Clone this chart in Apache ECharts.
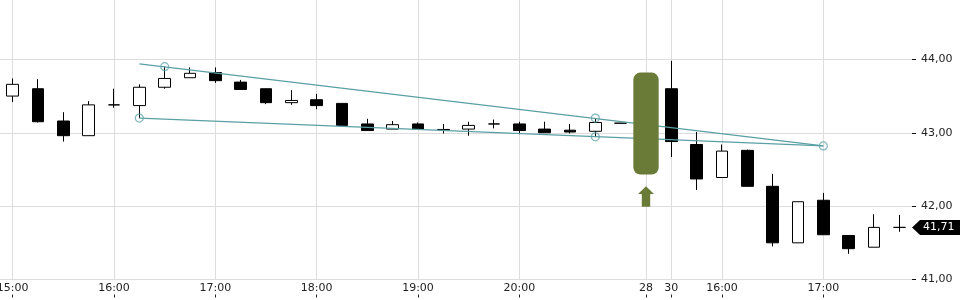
<!DOCTYPE html>
<html>
<head>
<meta charset="utf-8">
<script src="https://cdn.jsdelivr.net/npm/echarts@6/dist/echarts.min.js"></script>
<style>
html,body{margin:0;padding:0;background:#fff;}
#c{width:960px;height:300px;}
</style>
</head>
<body>
<div id="c"></div>
<script>
const categories = ['15:00','15:15','15:30','15:45','16:00','16:15','16:30','16:45','17:00','17:15','17:30','17:45',
  '18:00','18:15','18:30','18:45','19:00','19:15','19:30','19:45','20:00','20:15','20:30','20:45','21:00',
  '28','30','15:45','16:00','16:15','16:30','16:45','17:00','17:15','17:30','17:45'];
const labelIndex = [0,4,8,12,16,20,25,26,28,32];
const labelText = ['15:00','16:00','17:00','18:00','19:00','20:00','28','30','16:00','17:00'];

const opens  = [43.50,43.60,43.16,42.96,43.38,43.37,43.62,43.75,43.82,43.69,43.60,43.41,43.45,43.40,43.12,43.05,43.12,43.045,43.05,43.12,43.12,43.05,43.035,43.02,43.13,43.13,43.60,42.84,42.39,42.76,42.27,41.50,42.08,41.60,41.44,41.71];
const closes = [43.66,43.15,42.96,43.38,43.38,43.62,43.74,43.81,43.71,43.59,43.41,43.44,43.37,43.10,43.03,43.11,43.05,43.04,43.10,43.12,43.03,43.00,43.01,43.14,43.13,43.13,42.88,42.37,42.75,42.27,41.50,42.06,41.61,41.42,41.71,41.71];
const lows   = [43.42,43.14,42.88,42.96,43.34,43.20,43.60,43.75,43.68,43.59,43.39,43.38,43.32,43.09,43.03,43.05,43.05,42.99,42.96,43.06,42.98,43.00,42.99,42.94,43.13,43.13,42.67,42.22,42.39,42.27,41.45,41.50,41.61,41.35,41.44,41.65];
const highs  = [43.74,43.73,43.28,43.43,43.60,43.66,43.90,43.89,43.89,43.72,43.60,43.58,43.53,43.40,43.19,43.16,43.14,43.12,43.15,43.18,43.15,43.15,43.12,43.20,43.13,43.13,43.98,43.01,42.84,42.77,42.44,42.06,42.18,41.60,41.89,41.88];

const upperTrend = [[5,43.94],[32,42.82]];
const lowerTrend = [[5,43.20],[32,42.82]];
const trendPoints = [[6,43.90],[23,43.20],[5,43.20],[23,42.944],[32,42.82]];

const signalIndex = 25;
const signalRange = [43.82, 42.43];
const arrowRange = [42.27, 41.99];
const lastPrice = 41.71;

const yTicks = [41,42,43,44];

const fmt = v => v.toFixed(2).replace('.', ',');
const showLabel = (i) => labelIndex.indexOf(i) >= 0;

const candleData = opens.map((o,i) => [o, closes[i], lows[i], highs[i]]);

const chart = echarts.init(document.getElementById('c'), null, {renderer:'canvas'});
const FONT = 'DejaVu Sans';
const teal = '#5a9fa4';
const olive = '#6a7b38';

chart.setOption({
  animation: false,
  backgroundColor: '#ffffff',
  grid: {left: 0, right: 48, top: -14, height: 293.5, containLabel: false, outerBoundsMode: 'none'},
  xAxis: [{
    type: 'category',
    data: categories,
    boundaryGap: true,
    axisLine: {show: false},
    axisTick: {show: false},
    splitLine: {show: false},
    axisLabel: {
      interval: (i) => showLabel(i),
      formatter: (v, i) => { const k = labelIndex.indexOf(i); return k >= 0 ? labelText[k] : ''; },
      margin: 3, fontSize: 11, fontFamily: FONT, color: '#222', hideOverlap: false
    }
  },{
    type: 'category',
    data: categories,
    position: 'bottom',
    offset: 15,
    boundaryGap: true,
    axisLine: {show: false},
    axisLabel: {show: false},
    splitLine: {show: false},
    axisTick: {show: true, alignWithLabel: true, interval: (i) => showLabel(i), length: 3, lineStyle: {color: '#222', width: 1}}
  }],
  yAxis: {
    type: 'value',
    position: 'right',
    min: 41, max: 45, interval: 1,
    axisLine: {show: false},
    axisTick: {show: true, length: 4, lineStyle: {color: '#111'}},
    axisLabel: {margin: 9, fontSize: 11, fontFamily: FONT, color: '#222', formatter: (v) => yTicks.indexOf(v) >= 0 ? fmt(v) : ''},
    splitLine: {show: true, lineStyle: {color: '#dddddd', width: 1}}
  },
  series: [
    {
      type: 'line', data: [], z: 0, silent: true,
      markLine: {
        z: 0, silent: true, symbol: ['none','none'], label: {show: false},
        lineStyle: {color: '#dddddd', type: 'solid', width: 1},
        emphasis: {disabled: true},
        data: labelIndex.map(i => ({xAxis: i}))
      }
    },
    {
      type: 'candlestick', z: 3,
      data: candleData,
      barWidth: 12,
      itemStyle: {color: '#ffffff', color0: '#000000', borderColor: '#000000', borderColor0: '#000000', borderColorDoji: '#000000', borderWidth: 1}
    },
    {
      type: 'line', z: 4, data: upperTrend, showSymbol: false, silent: true,
      lineStyle: {color: teal, width: 1.3}
    },
    {
      type: 'line', z: 4, data: lowerTrend, showSymbol: false, silent: true,
      lineStyle: {color: teal, width: 1.3}
    },
    {
      type: 'scatter', z: 5, data: trendPoints, symbol: 'circle', symbolSize: 8, silent: true,
      itemStyle: {color: 'rgba(0,0,0,0)', borderColor: '#62a6aa', borderWidth: 1.2}
    },
    {
      type: 'custom', z: 6, clip: false, silent: true,
      data: [[signalIndex, signalRange[0], signalRange[1], arrowRange[0], arrowRange[1]]],
      renderItem: (params, api) => {
        const idx = api.value(0);
        const p1 = api.coord([idx, api.value(1)]);
        const p2 = api.coord([idx, api.value(2)]);
        const a1 = api.coord([idx, api.value(3)]);
        const a2 = api.coord([idx, api.value(4)]);
        const bw = api.size([1, 0])[0];
        const x = p1[0];
        const hy = a1[1] + 7.6;
        return {
          type: 'group',
          children: [
            {type: 'rect', shape: {x: x - bw/2, y: p1[1], width: bw, height: p2[1]-p1[1], r: 7}, style: {fill: olive}},
            {type: 'polygon', shape: {points: [[x, a1[1]],[x+8, hy],[x+4.2, hy],[x+4.2, a2[1]],[x-4.2, a2[1]],[x-4.2, hy],[x-8, hy]]}, style: {fill: olive}}
          ]
        };
      }
    },
    {
      type: 'custom', z: 7, clip: false, silent: true,
      data: [[categories.length - 1, lastPrice]],
      renderItem: (params, api) => {
        const y = api.coord([api.value(0), api.value(1)])[1];
        const x0 = params.coordSys.x + params.coordSys.width;
        const h = 7.5;
        return {
          type: 'group',
          children: [
            {type: 'polygon', shape: {points: [[x0, y],[x0+8, y-h],[960, y-h],[960, y+h],[x0+8, y+h]]}, style: {fill: '#000'}},
            {type: 'text', style: {text: fmt(api.value(1)), x: x0 + 11, y: y, fill: '#fff', font: '11px "DejaVu Sans"', verticalAlign: 'middle', align: 'left'}}
          ]
        };
      }
    }
  ]
});
</script>
</body>
</html>
